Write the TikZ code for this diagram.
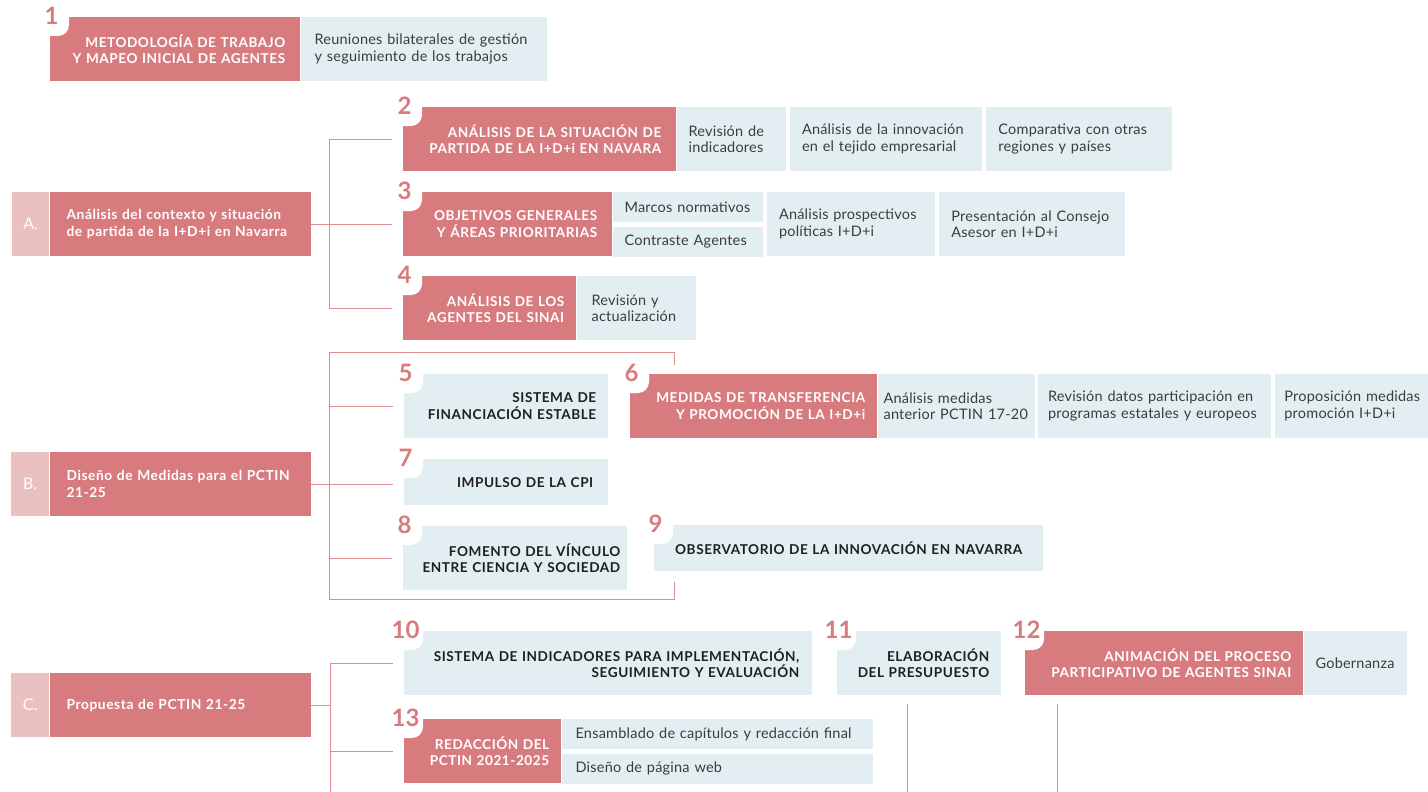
\documentclass[tikz,border=0pt]{standalone}
\usepackage{fontspec}
\setmainfont{Lato}
\usetikzlibrary{positioning,calc}
\definecolor{boxred}{HTML}{D87B7E}
\definecolor{lightred}{HTML}{EBC0C1}
\definecolor{boxblue}{HTML}{E3EEF2}
\definecolor{textgray}{HTML}{3C3C3C}
\definecolor{linkred}{HTML}{DE8E91}
\newcommand{\capsfont}{\bfseries\fontsize{13.6pt}{16.5pt}\selectfont\addfontfeature{LetterSpace=4}}
\newcommand{\bodyfont}{\fontsize{14.5pt}{16.8pt}\selectfont\addfontfeature{LetterSpace=1.5}}
\newcommand{\secfont}{\bfseries\fontsize{13.8pt}{17pt}\selectfont\addfontfeature{LetterSpace=4}}
\newcommand{\labfont}{\fontsize{16pt}{18pt}\selectfont}
\newcommand{\numfont}{\bfseries\fontsize{24pt}{24pt}\selectfont}
\tikzset{
  box/.style={rectangle,inner ysep=0pt,inner xsep=15pt,minimum height=64pt,anchor=north west},
  redbox/.style={box,minimum width=#1pt,text width=#1pt-30pt,fill=boxred,text=white,font=\capsfont,align=right},
  taskbox/.style={box,minimum width=#1pt,text width=#1pt-30pt,fill=boxblue,text=black!88,font=\capsfont,align=right},
  infobox/.style={box,inner xsep=12pt,minimum width=#1pt,text width=#1pt-24pt,fill=boxblue,text=textgray,font=\bodyfont,align=left},
  seclabel/.style={box,inner xsep=0pt,minimum width=#1pt,fill=lightred,text=white,font=\labfont},
  secbox/.style={box,inner xsep=17pt,minimum width=#1pt,text width=#1pt-34pt,fill=boxred,text=white,font=\secfont,align=left},
  link/.style={draw=linkred,line width=1pt},
  notch/.style={fill=white,rounded corners=11pt},
  numtext/.style={text=boxred,font=\numfont,inner sep=0pt,anchor=center}
}

\begin{document}
\begin{tikzpicture}[x=1pt,y=-1pt]
  \useasboundingbox (0,0) rectangle (1428,792);

  % 1
  \node [redbox=250] (b1) at (50,17) {METODOLOGÍA DE TRABAJO\\Y MAPEO INICIAL DE AGENTES};
  \node [infobox=246,inner xsep=14pt,text width=218pt,right=0pt of b1] (b1a) {Reuniones bilaterales de gestión\\y seguimiento de los trabajos};

  % A
  \node [seclabel=37] (la) at (12,192) {A.};
  \node [secbox=261,right=0pt of la] (sA) {Análisis del contexto y situación\\de partida de la I+D+i en Navarra};

  \node [redbox=273] (b2) at (403,107) {ANÁLISIS DE LA SITUACIÓN DE\\PARTIDA DE LA I+D+i EN NAVARA};
  \node [infobox=109,right=0pt of b2] (b2a) {Revisión de\\indicadores};
  \node [infobox=192,right=4pt of b2a] (b2b) {Análisis de la innovación\\en el tejido empresarial};
  \node [infobox=186,right=4pt of b2b] (b2c) {Comparativa con otras\\regiones y países};

  \node [redbox=209] (b3) at (403,192) {OBJETIVOS GENERALES\\Y ÁREAS PRIORITARIAS};
  \node [infobox=150,minimum height=30pt] (b3a) at (b3.north east) {Marcos normativos};
  \node [infobox=150,minimum height=30pt,below=4pt of b3a] (b3b) {Contraste Agentes};
  \node [infobox=168] (b3c) at ($(b3a.north east)+(4,0)$) {Análisis prospectivos\\políticas I+D+i};
  \node [infobox=186,right=4pt of b3c] (b3d) {Presentación al Consejo\\Asesor en I+D+i};

  \node [redbox=173,inner xsep=12pt,text width=149pt] (b4) at (403,276) {ANÁLISIS DE LOS\\AGENTES DEL SINAI};
  \node [infobox=119,inner xsep=15pt,text width=89pt,right=0pt of b4] (b4a) {Revisión y\\actualización};

  % B
  \node [seclabel=38] (lb) at (11,452) {B.};
  \node [secbox=261,right=0pt of lb] (sB) {Diseño de Medidas para el PCTIN\\21-25};

  \node [taskbox=204,inner xsep=12pt,text width=180pt] (b5) at (404,374) {SISTEMA DE\\FINANCIACIÓN ESTABLE};
  \node [redbox=247,inner xsep=12pt,text width=223pt] (b6) at (630,374) {MEDIDAS DE TRANSFERENCIA\\Y PROMOCIÓN DE LA I+D+i};
  \node [infobox=157,inner xsep=6pt,text width=145pt,right=0pt of b6] (b6a) {Análisis medidas\\anterior PCTIN 17-20};
  \node [infobox=233,inner xsep=10pt,text width=213pt,right=3pt of b6a] (b6b) {Revisión datos participación en\\programas estatales y europeos};
  \node [infobox=154,inner xsep=9pt,text width=136pt,right=4pt of b6b] (b6c) {Proposición medidas\\promoción I+D+i};
  \node [taskbox=204,minimum height=46pt] (b7) at (404,459) {IMPULSO DE LA CPI};
  \node [taskbox=224,inner xsep=7pt,text width=210pt] (b8) at (403,526) {FOMENTO DEL VÍNCULO\\ENTRE CIENCIA Y SOCIEDAD};
  \node [taskbox=389,minimum height=46pt,inner xsep=10pt,text width=369pt,align=center] (b9) at (654,525) {OBSERVATORIO DE LA INNOVACIÓN EN NAVARRA};

  % C
  \node [seclabel=38] (lc) at (11,673) {C.};
  \node [secbox=261,right=0pt of lc] (sC) {Propuesta de PCTIN 21-25};

  \node [taskbox=408,inner xsep=13pt,text width=382pt] (b10) at (404,631) {SISTEMA DE INDICADORES PARA IMPLEMENTACIÓN,\\SEGUIMIENTO Y EVALUACIÓN};
  \node [taskbox=164,inner xsep=12pt,text width=140pt] (b11) at (837,631) {ELABORACIÓN\\DEL PRESUPUESTO};
  \node [redbox=278,inner xsep=12pt,text width=254pt] (b12) at (1025,631) {ANIMACIÓN DEL PROCESO\\PARTICIPATIVO DE AGENTES SINAI};
  \node [infobox=103,right=0pt of b12] (b12a) {Gobernanza};
  \node [redbox=157,inner xsep=12pt,text width=133pt] (b13) at (404,719) {REDACCIÓN DEL\\PCTIN 2021-2025};
  \node [infobox=311,inner xsep=14pt,text width=283pt,minimum height=30pt] (b13a) at (b13.north east) {Ensamblado de capítulos y redacción final};
  \node [infobox=311,inner xsep=14pt,text width=283pt,minimum height=30pt,below=4pt of b13a] (b13b) {Diseño de página web};

  % step numbers
  \foreach \n in {1,...,13}{
    \fill [notch] ($(b\n.north west)+(-12,-12)$) rectangle ($(b\n.north west)+(19,19)$);
    \node [numtext] (n\n) at ($(b\n.north west)+(1.5,-1.5)$) {\n};
  }

  % links A
  \coordinate (jA) at ($(sA.east)+(19,0)$);
  \draw [link,shorten >=11pt] (sA.east) -- (sA.east -| b3.west);
  \draw [link,shorten >=11pt] (jA) |- (b2.west);
  \draw [link,shorten >=11pt] (jA) |- (b4.west);

  % links B
  \coordinate (bkTL) at (329,352);
  \coordinate (bkBL) at (329,599);
  \coordinate (bkTR) at (674,365);
  \coordinate (bkBR) at (674,582);
  \draw [link] (bkTR) |- (bkTL) -- (bkBL) -| (bkBR);
  \draw [link,shorten >=11pt] (sB.east) -- (sB.east -| b7.west);
  \draw [link,shorten >=11pt] (b5.west -| bkTL) -- (b5.west);
  \draw [link,shorten >=11pt] (b8.west -| bkTL) -- (b8.west);

  % links C
  \coordinate (cBot) at (330,792);
  \coordinate (d11) at (907,792);
  \coordinate (d12) at (1057,792);
  \draw [link] (sC.east) -- (sC.east -| cBot);
  \draw [link,shorten >=11pt] (cBot) |- (b10.west);
  \draw [link,shorten >=11pt] (b13.west -| cBot) -- (b13.west);
  \draw [link,shorten >=9pt] (d11) -- (d11 |- b11.south);
  \draw [link,shorten >=9pt] (d12) -- (d12 |- b12.south);
\end{tikzpicture}
\end{document}
